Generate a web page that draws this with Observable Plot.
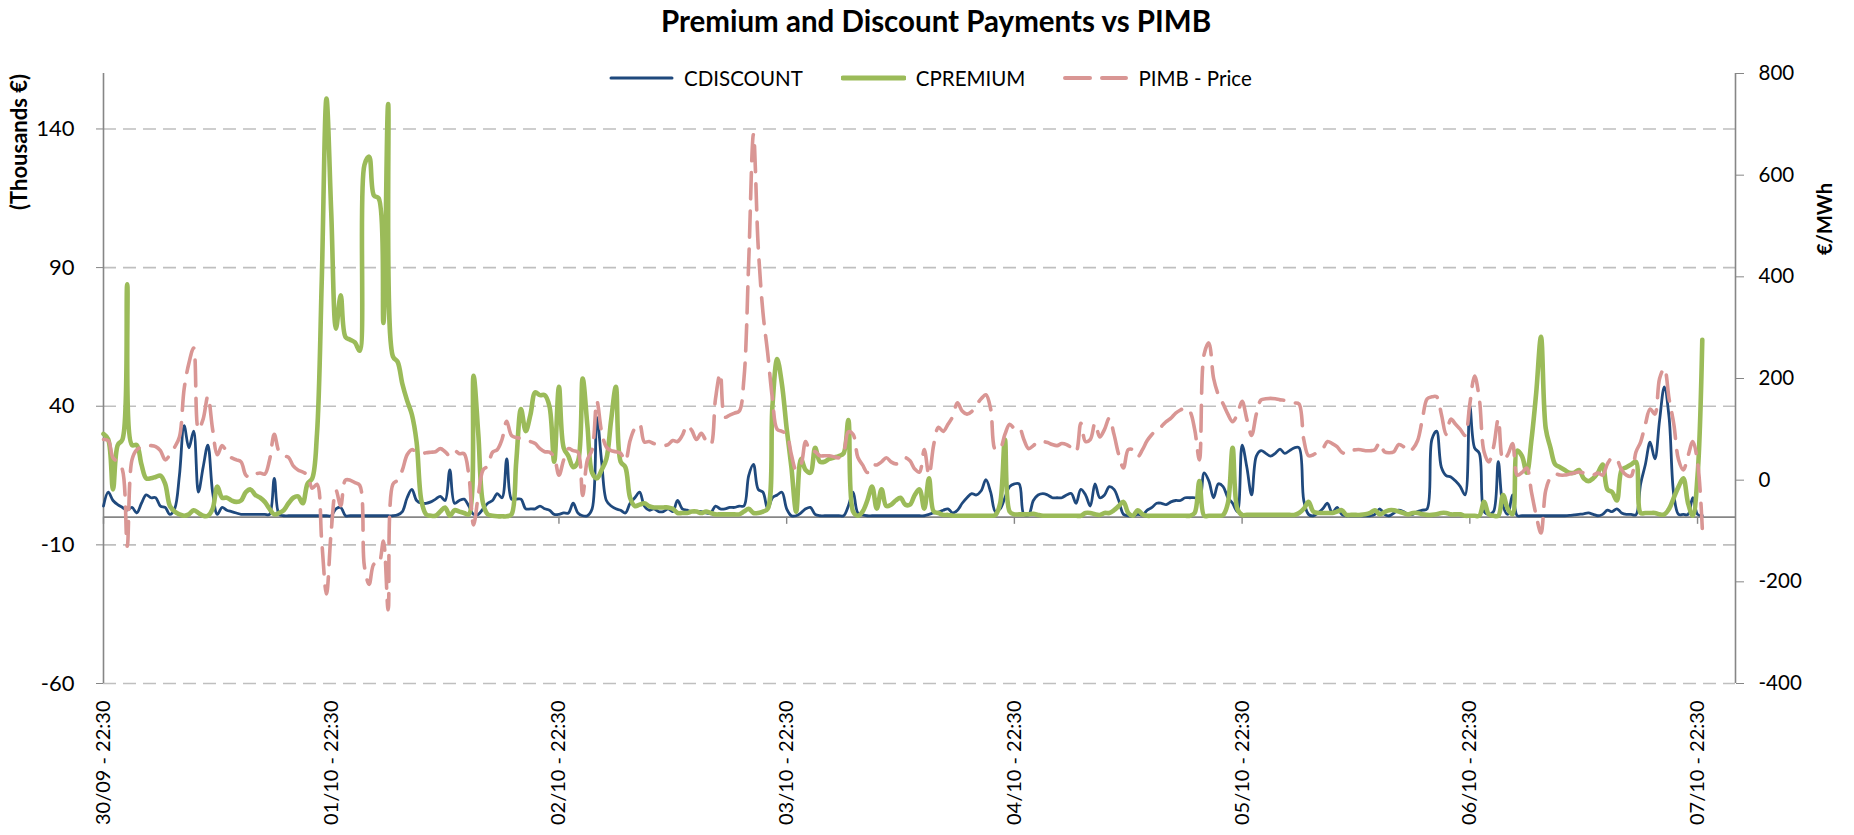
<!DOCTYPE html>
<html>
<head>
<meta charset="utf-8">
<script src="https://cdn.jsdelivr.net/npm/d3@7"></script>
<script src="https://cdn.jsdelivr.net/npm/@observablehq/plot@0.6"></script>
<style>
  body { margin: 0; background: #fff; }
  #wrap { position: relative; width: 1854px; height: 835px; font-family: Lato, "Open Sans", sans-serif; color: #000; }
  #chart { position: absolute; left: 0; top: 0; }
  #title { position: absolute; left: 936px; top: 4px; transform: translateX(-50%); white-space: nowrap; font-weight: bold; font-size: 29.5px; line-height: 34px; }
  #legend { position: absolute; left: 609px; top: 66px; height: 24px; display: flex; align-items: center; font-size: 20.5px; }
  .item { display: flex; align-items: center; margin-right: 38px; }
  .item svg { margin-right: 10px; }
  .vlab { position: absolute; white-space: nowrap; font-weight: bold; font-size: 22px; transform: translate(-50%, -50%) rotate(-90deg); }
</style>
</head>
<body>
<div id="wrap">
  <div id="chart"></div>
  <div id="title">Premium and Discount Payments vs PIMB</div>
  <div id="legend"></div>
  <div class="vlab" style="left:18px; top:142px;">(Thousands €)</div>
  <div class="vlab" style="left:1824px; top:219px; font-size:20px;">€/MWh</div>
</div>
<script>
// ---- data (half-hourly, starting 30/09 22:30) ----
const xTickIndex = [0, 48, 96, 144, 192, 240, 288, 336];
const xTickLabels = ["30/09 - 22:30", "01/10 - 22:30", "02/10 - 22:30", "03/10 - 22:30",
                     "04/10 - 22:30", "05/10 - 22:30", "06/10 - 22:30", "07/10 - 22:30"];
const leftTicks = [-60, -10, 40, 90, 140];
const rightTicks = [-400, -200, 0, 200, 400, 600, 800];
const leftDomain = [-60, 160];
const rightDomain = [-400, 800];
const xDomain = [0, 344];

const seriesNames = ["CDISCOUNT", "CPREMIUM", "PIMB - Price"];

const cdiscount = [
  4, 9, 6, 4.5, 3.5, 2.5, 3.5, 1.5, 5, 8,
  7, 7, 4, 3.5, 1, 3, 15, 33, 25, 31,
  9, 18, 26, 9, 1, 3.5, 2.5, 2, 1.5, 1,
  1, 1, 1, 1, 1, 1, 14, 1, 0.5, 0.5,
  0.5, 0.5, 0.5, 0.5, 0.5, 0.5, 0.5, 0.5, 0.5, 3,
  3.5, 0.5, 0.5, 0.5, 0.5, 0.5, 0.5, 0.5, 0.5, 0.5,
  0.5, 0.5, 0.8, 2, 7, 10, 6, 5, 5, 5.5,
  6.5, 7.5, 6, 17, 5, 6, 6.5, 4, 1, 1,
  3, 5, 6, 8.5, 7, 21, 6.5, 6.5, 6.5, 3,
  3, 3, 4, 3, 2.5, 1, 1, 1.5, 1.5, 5,
  1.5, 0.5, 0.5, 3, 36, 20, 6, 4, 3, 2.5,
  1.5, 5, 7, 9, 4, 2.5, 3, 2, 2, 3,
  2, 6, 3, 2.5, 2, 2, 2, 1.5, 1.5, 4,
  3, 3, 3.5, 3.5, 4, 4, 15, 19, 10, 9,
  3, 7, 8, 9, 3, 0.5, 0.5, 1.5, 3, 3.5,
  1, 0.5, 0.5, 0.5, 0.5, 0.5, 0.5, 4, 9, 1.5,
  0.8, 0.5, 0.5, 0.5, 0.5, 0.5, 0.5, 0.5, 0.5, 0.5,
  0.5, 0.5, 0.5, 0.5, 1, 1.5, 1.8, 2.5, 3, 1.5,
  2.5, 5, 7, 8.5, 8, 9.5, 13.5, 9, 2, 3,
  7, 11, 12, 12, 1, 0.8, 6, 8, 8.5, 8,
  7, 7, 7, 8, 8.5, 5, 10, 8, 4, 12,
  7, 8, 11, 10, 6, 1, 0.5, 0.5, 1, 0.8,
  2.5, 3.5, 5, 5, 4.5, 5.5, 6, 6, 7, 7,
  7, 6, 16, 13, 7, 12, 11, 7, 5, 2,
  26, 18, 8, 22, 24, 23, 22, 23, 24.5, 23,
  24, 25, 25, 6, 1, 0.5, 1.5, 3, 5, 1.5,
  3.5, 1, 0.5, 0.5, 0.5, 0.5, 0.5, 0.5, 1, 3,
  1, 0.5, 1.5, 2.5, 2, 1, 1, 2, 2.5, 3,
  28, 31, 18, 15, 14.5, 13, 11, 8, 40, 25,
  23, 2, 1, 2, 20, 4, 1, 8, 0.5, 0.5,
  0.5, 0.5, 0.5, 0.5, 0.5, 0.5, 0.5, 0.5, 0.5, 0.6,
  0.8, 1, 1.2, 1.5, 1, 0.5, 1, 2.5, 2, 3,
  1.5, 1, 1, 0.8, 12, 19, 27, 21, 35, 47,
  36, 8, 1, 1, 1, 7, 1, 0.5
];

const cpremium = [
  30, 28, 10, 26, 28, 84, 26, 26, 19, 14,
  14, 14.5, 15, 12, 4, 2, 1, 0.5, 1, 2.5,
  1.5, 0.5, 0.5, 3, 11, 7, 7, 6, 5.5, 6,
  9, 10, 8, 7, 5.5, 3, 1, 1.5, 2.5, 5,
  7, 7.5, 5, 12, 14, 30, 85, 151, 110, 68,
  80, 65, 64, 63, 60, 127, 130, 116, 115, 70,
  149, 58, 56, 48, 42, 37, 27, 6, 1, 0.5,
  0.5, 2, 3.5, 0.5, 2.5, 2, 1.5, 1, 51, 30,
  5, 1, 0.5, 0.3, 0.3, 0.3, 1, 20, 39, 31,
  37, 45, 44, 44, 40, 20, 47, 25, 22, 18,
  20, 50, 33, 16, 14, 17, 21, 35, 47, 20,
  18, 7, 4, 4.5, 5, 4, 3.5, 3.5, 3.5, 3.5,
  3, 1.5, 1.5, 1.5, 2, 2, 1.5, 2, 1.5, 1,
  1, 1, 1, 1, 1, 2, 3, 1.5, 1.5, 2,
  3, 40, 57, 48, 32, 18, 2, 21, 17, 16,
  25, 20, 20, 21, 21.5, 22, 23, 35, 2, 0.5,
  2, 6, 11, 3, 10, 4, 4.5, 6, 7, 4.5,
  4.5, 8, 10, 3, 14, 2, 1.5, 0.8, 0.8, 0.5,
  0.5, 0.5, 0.5, 0.5, 0.5, 0.5, 0.5, 0.5, 0.8, 5,
  28, 2, 1, 1, 1, 1, 1.2, 0.8, 0.5, 0.5,
  0.5, 0.5, 0.5, 0.5, 0.5, 0.5, 0.5, 1.5, 1.5, 1,
  0.8, 1.5, 1.5, 2.5, 4, 5.5, 1.5, 0.5, 2.5, 1,
  0.5, 0.5, 0.5, 0.5, 0.5, 0.5, 0.5, 0.5, 0.5, 0.5,
  1.5, 13, 0.5, 0.5, 0.5, 0.5, 0.8, 5, 25, 3,
  0.8, 0.8, 0.8, 0.8, 0.8, 0.8, 0.8, 0.8, 0.8, 0.8,
  0.8, 0.8, 1.5, 3, 5.5, 2, 1.5, 1.5, 1.5, 1.5,
  2, 2.5, 0.8, 0.8, 0.8, 0.8, 1, 1.5, 2.5, 1,
  1.8, 2.5, 2.5, 2, 1.5, 1, 1.5, 1.5, 1, 0.8,
  0.8, 1, 1.5, 1.5, 1, 1, 1, 0.5, 0.5, 0.5,
  0.5, 5.5, 1, 0.5, 0.5, 8, 3, 1, 24, 22,
  16, 28, 45, 65, 32, 25, 19, 18, 17, 16,
  16, 17, 14, 13, 14, 16, 19, 10, 9, 6,
  17, 18, 19, 20, 1.5, 1.5, 1.5, 1.5, 1, 1,
  3, 7, 11, 14, 5, 0.5, 15, 64
];

const pimb = [
  80, 78, 44, 36, 20, -130, 40, 60, 65, 68,
  68, 66, 58, 40, 50, 65, 85, 180, 230, 260,
  100, 120, 165, 100, 50, 68, 55, 44, 40, 36,
  10, 5, 12, 14, 12, 40, 90, 56, 48, 45,
  28, 20, 16, 10, -16, -8, -120, -224, -100, -20,
  -50, 0, 0, -5, -10, -170, -205, -165, -165, -120,
  -255, -8, 0, 20, 50, 60, 55, 52, 54, 55,
  56, 62, 56, 48, 58, 52, 52, 10, -88, -30,
  20, 28, 55, 60, 80, 116, 88, 84, 82, 80,
  76, 72, 62, 56, 55, 45, 10, 40, 62, 58,
  55, -30, 40, 60, 155, 95, 65, 58, 56, 53,
  38, 78, 102, 110, 75, 76, 72, 70, 68, 70,
  78, 76, 88, 108, 98, 80, 92, 78, 70, 160,
  210, 124, 128, 132, 136, 200, 430, 680, 460, 330,
  250, 160, 100, 96, 90, 50, 20, 30, 76, 55,
  56, 48, 48, 48, 46, 44, 55, 95, 90, 45,
  30, 15, 30, 30, 36, 44, 36, 32, 35, 44,
  38, 22, 16, 60, 10, 70, 104, 96, 110, 125,
  152, 136, 130, 135, 148, 160, 168, 140, 60, 62,
  90, 110, 102, 104, 80, 62, 68, 76, 76, 74,
  70, 68, 72, 70, 64, 56, 112, 76, 80, 112,
  85, 100, 122, 90, 50, 24, 60, 60, 46, 60,
  78, 90, 100, 106, 115, 122, 132, 138, 142, 135,
  100, 40, 248, 270, 200, 168, 150, 130, 115, 130,
  155, 120, 88, 130, 158, 160, 161, 160, 158, 157,
  154, 152, 150, 80, 48, 50, 56, 62, 76, 72,
  66, 55, 52, 58, 60, 60, 58, 58, 60, 74,
  56, 54, 56, 70, 66, 56, 62, 78, 120, 160,
  164, 164, 130, 90, 120, 110, 100, 88, 150, 205,
  160, 56, 36, 65, 120, 40, 50, 72, 10, 15,
  24, -24, -70, -104, -20, 5, 12, 10, 10, 12,
  14, 16, 14, 10, 10, 14, 10, 32, 44, 40,
  20, 10, 8, 55, 75, 110, 140, 130, 200, 220,
  160, 110, 40, 20, 48, 76, 36, -95
];

// ---- styles ----
const COL_BLUE = "#1F497D", COL_GREEN = "#9BBB59", COL_PINK = "#D99694";
const COL_AXIS = "#868686", COL_GRID = "#BFBFBF";

// secondary axis mapping (€/MWh -> primary units)
const toLeft = p => leftDomain[0] + (p - rightDomain[0]) / (rightDomain[1] - rightDomain[0]) * (leftDomain[1] - leftDomain[0]);
const toRight = v => rightDomain[0] + (v - leftDomain[0]) / (leftDomain[1] - leftDomain[0]) * (rightDomain[1] - rightDomain[0]);

const chart = Plot.plot({
  width: 1854,
  height: 835,
  marginLeft: 103,
  marginRight: 119,
  marginTop: 73,
  marginBottom: 152,
  x: { type: "linear", domain: xDomain, axis: null },
  y: { domain: leftDomain, axis: null },
  style: { fontFamily: "Lato, 'Open Sans', sans-serif", color: "#000", background: "#fff", overflow: "visible" },
  marks: [
    Plot.ruleY(leftTicks, { stroke: COL_GRID, strokeWidth: 1.6, strokeDasharray: "13,7" }),
    Plot.ruleY([0], { stroke: COL_AXIS, strokeWidth: 1.6 }),
    Plot.ruleX(xTickIndex, { y1: 0, y2: -2.6, stroke: COL_AXIS, strokeWidth: 1.4 }),
    Plot.ruleX(xDomain, { stroke: COL_AXIS, strokeWidth: 1.6 }),
    Plot.axisY(leftTicks, {
      anchor: "left", tickSize: 7, tickPadding: 22, stroke: COL_AXIS, fill: "#000",
      fontSize: 22, tickFormat: d => String(d)
    }),
    Plot.axisY(rightTicks.map(toLeft), {
      anchor: "right", tickSize: 8, tickPadding: 15, stroke: COL_AXIS, fill: "#000",
      fontSize: 20.5, tickFormat: d => String(Math.round(toRight(d)))
    }),
    Plot.axisX(xTickIndex, {
      anchor: "bottom", tickSize: 0, tickPadding: 17, tickRotate: -90, fill: "#000",
      fontSize: 20, tickFormat: d => xTickLabels[xTickIndex.indexOf(d)]
    }),
    Plot.lineY(cdiscount, { stroke: COL_BLUE, strokeWidth: 2.8, curve: "catmull-rom" }),
    Plot.lineY(cpremium, { stroke: COL_GREEN, strokeWidth: 4.6, curve: "catmull-rom" }),
    Plot.lineY(pimb.map(toLeft), { stroke: COL_PINK, strokeWidth: 3.6, strokeDasharray: "26,12", curve: "catmull-rom" })
  ]
});
document.getElementById("chart").appendChild(chart);

// ---- legend ----
const legendStyles = [
  { color: COL_BLUE, width: 3, dash: null },
  { color: COL_GREEN, width: 5, dash: null },
  { color: COL_PINK, width: 4, dash: "25,12" }
];
const legend = d3.select("#legend");
seriesNames.forEach((name, i) => {
  const s = legendStyles[i];
  const item = legend.append("div").attr("class", "item");
  const sv = item.append("svg").attr("width", 65).attr("height", 12);
  sv.append("line").attr("x1", 2).attr("x2", 63).attr("y1", 6).attr("y2", 6)
    .attr("stroke", s.color).attr("stroke-width", s.width)
    .attr("stroke-linecap", "round")
    .attr("stroke-dasharray", s.dash);
  item.append("span").text(name);
});
</script>
</body>
</html>
